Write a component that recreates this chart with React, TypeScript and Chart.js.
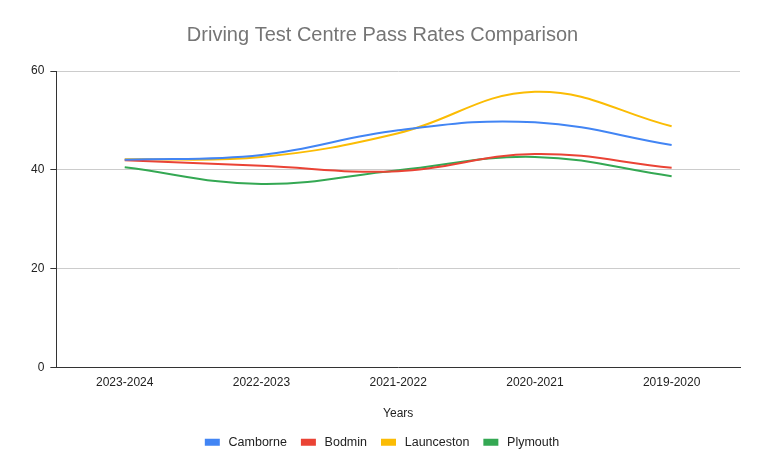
import React, { useEffect, useRef } from "react";
import { Chart, registerables } from "chart.js";

Chart.register(...registerables);

const categories = ["2023-2024", "2022-2023", "2021-2022", "2020-2021", "2019-2020"];
const camborne = [42.0, 43.0, 48.0, 49.6, 45.0];
const bodmin = [41.9, 40.8, 39.7, 43.2, 40.4];
const launceston = [42.1, 42.6, 47.4, 55.8, 48.8];
const plymouth = [40.5, 37.1, 39.9, 42.6, 38.7];
const yTicks = [0, 20, 40, 60];

const FONT = "Arial, 'Liberation Sans', sans-serif";

export default function App() {
  const ref = useRef<HTMLCanvasElement>(null);
  useEffect(() => {
    document.body.style.margin = "0";
    const mk = (label: string, data: number[], color: string) => ({
      label,
      data,
      borderColor: color,
      backgroundColor: color,
      borderWidth: 2,
      pointRadius: 0,
      tension: 0.4,
      fill: false,
    });
    const chart = new Chart(ref.current!, {
      type: "line",
      data: {
        labels: categories,
        datasets: [
          mk("Camborne", camborne, "#4285F4"),
          mk("Bodmin", bodmin, "#EA4335"),
          mk("Launceston", launceston, "#FBBC04"),
          mk("Plymouth", plymouth, "#34A853"),
        ],
      },
      options: {
        animation: false,
        responsive: false,
        maintainAspectRatio: false,
        layout: { padding: { left: 25, right: 24, top: 14, bottom: 14.5 } },
        plugins: {
          title: {
            display: true,
            text: "Driving Test Centre Pass Rates Comparison",
            color: "#757575",
            font: { family: FONT, size: 20, weight: "normal" },
            padding: { top: 9, bottom: 24 },
          },
          legend: {
            position: "bottom",
            labels: {
              boxWidth: 13,
              boxHeight: 5,
              color: "#222",
              font: { family: FONT, size: 12.5 },
              padding: 15,
              generateLabels: (c: any) =>
                Chart.defaults.plugins.legend.labels.generateLabels(c).map((l: any) => ({
                  ...l,
                  text: " " + l.text,
                })),
            },
          },
          tooltip: { enabled: false },
        },
        scales: {
          x: {
            offset: true,
            grid: { display: false, drawTicks: false },
            border: { display: true, color: "#333", width: 1 },
            ticks: { color: "#222", font: { family: FONT, size: 12 }, padding: 8 },
            title: {
              display: true,
              text: "Years",
              color: "#222",
              font: { family: FONT, size: 12 },
              padding: { top: 9, bottom: 0 },
            },
          },
          y: {
            min: 0,
            max: 60,
            afterBuildTicks: (s: any) => {
              s.ticks = yTicks.map((v) => ({ value: v }));
            },
            grid: { color: "#cccccc", tickColor: "#333", tickLength: 6 },
            border: { display: true, color: "#333", width: 1 },
            ticks: { color: "#222", font: { family: FONT, size: 12 }, padding: 6 },
          },
        },
      },
    });
    return () => chart.destroy();
  }, []);
  return (
    <div style={{ width: 764, height: 473 }}>
      <canvas ref={ref} width={764} height={473} style={{ width: 764, height: 473 }} />
    </div>
  );
}
